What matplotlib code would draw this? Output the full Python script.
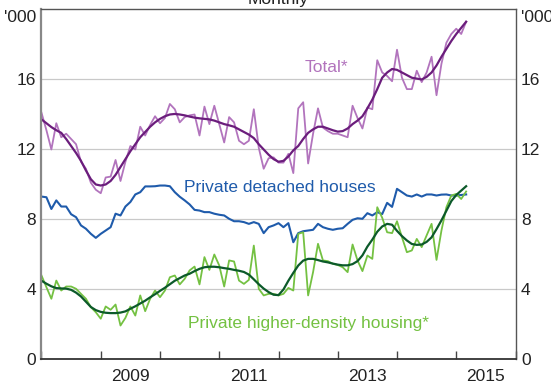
import numpy as np
import matplotlib
matplotlib.use("Agg")
import matplotlib.pyplot as plt

plt.rcParams['font.family'] = ['Liberation Sans', 'DejaVu Sans']

# Monthly data, Jan 2008 onwards ('000 dwellings)
total = [14.1, 13.1, 12.0, 13.5, 12.7, 12.9, 12.6, 12.3, 11.3, 10.9,
         10.1, 9.7, 9.5, 10.4, 10.45, 11.4, 10.2, 11.3, 12.2, 12.0,
         13.3, 12.8, 13.4, 13.9, 13.5, 13.8, 14.6, 14.3, 13.55, 13.85,
         13.95, 14.0, 12.8, 14.45, 13.45, 14.5, 13.45, 12.4, 13.85, 13.55,
         12.5, 12.3, 12.5, 14.3, 12.1, 10.9, 11.5, 11.55, 11.25, 11.25,
         11.75, 10.65, 14.35, 14.7, 11.2, 12.9, 14.35, 13.25, 13.05, 12.9,
         12.9, 12.8, 12.7, 14.5, 13.8, 13.2, 14.4, 14.3, 17.1, 16.4,
         16.2, 15.9, 17.7, 16.1, 15.45, 15.45, 16.5, 15.85, 16.4, 17.3,
         15.1, 16.9, 18.1, 18.6, 18.9, 18.6, 19.3]
total_trend = [13.72, 13.5, 13.28, 13.1, 12.95, 12.6, 12.2, 11.8, 11.35, 10.8,
               10.3, 10.0, 9.94, 10.0, 10.2, 10.55, 11.0, 11.45, 11.9, 12.3,
               12.7, 13.0, 13.3, 13.55, 13.75, 13.9, 14.0, 14.03, 14.0, 13.95,
               13.88, 13.82, 13.78, 13.75, 13.72, 13.65, 13.55, 13.45, 13.38, 13.3,
               13.15, 13.0, 12.85, 12.65, 12.3, 12.0, 11.7, 11.45, 11.3, 11.35,
               11.6, 11.95, 12.2, 12.6, 12.95, 13.15, 13.3, 13.3, 13.2, 13.1,
               13.02, 13.05, 13.2, 13.45, 13.65, 13.9, 14.35, 14.85, 15.45, 16.1,
               16.4, 16.6, 16.55, 16.4, 16.25, 16.1, 16.05, 16.0, 16.15, 16.4,
               16.8, 17.3, 17.75, 18.2, 18.6, 18.95, 19.3]
detached = [9.31, 9.27, 8.6, 9.09, 8.74, 8.74, 8.3, 8.13, 7.66, 7.47,
            7.18, 6.95, 7.18, 7.37, 7.56, 8.33, 8.23, 8.74, 9.0, 9.43,
            9.56, 9.89, 9.89, 9.9, 9.94, 9.94, 9.9, 9.56, 9.3, 9.09,
            8.86, 8.55, 8.51, 8.42, 8.42, 8.33, 8.27, 8.23, 8.04, 7.9,
            7.9, 7.85, 7.75, 7.85, 7.75, 7.22, 7.56, 7.66, 7.79, 7.56,
            7.79, 6.7, 7.22, 7.33, 7.37, 7.41, 7.75, 7.56, 7.47, 7.41,
            7.47, 7.5, 7.75, 7.98, 8.07, 8.04, 8.36, 8.23, 8.42, 8.31,
            8.95, 8.72, 9.75, 9.56, 9.37, 9.31, 9.43, 9.31, 9.43, 9.43,
            9.37, 9.42, 9.43, 9.37, 9.37, 9.4, 9.43]
higher = [4.8, 4.13, 3.47, 4.51, 3.94, 4.17, 4.17, 4.04, 3.75, 3.47,
          2.99, 2.7, 2.33, 3.03, 2.84, 3.14, 1.94, 2.38, 3.03, 2.51,
          3.66, 2.76, 3.47, 3.94, 3.56, 3.94, 4.7, 4.8, 4.29, 4.61,
          5.09, 5.31, 4.29, 5.85, 5.12, 6.0, 5.37, 4.17, 5.66, 5.6,
          4.51, 4.32, 4.55, 6.51, 4.04, 3.66, 3.75, 3.75, 3.66, 3.75,
          4.09, 3.94, 7.18, 7.27, 3.66, 4.99, 6.61, 5.66, 5.62, 5.47,
          5.4, 5.27, 4.99, 6.57, 5.66, 5.05, 5.94, 5.75, 8.7, 8.1,
          7.27, 7.22, 7.9, 6.99, 6.13, 6.23, 6.89, 6.42, 7.09, 7.75,
          5.69, 7.37, 8.7, 9.37, 9.46, 9.17, 9.6]
higher_trend = [4.5, 4.33, 4.18, 4.08, 4.06, 4.05, 3.98, 3.82, 3.6, 3.3,
                3.0, 2.82, 2.72, 2.67, 2.65, 2.65, 2.68, 2.75, 2.9, 3.04,
                3.2, 3.36, 3.55, 3.73, 3.92, 4.1, 4.3, 4.5, 4.65, 4.8,
                4.9, 5.05, 5.18, 5.27, 5.3, 5.3, 5.27, 5.22, 5.18, 5.12,
                5.07, 5.0, 4.85, 4.58, 4.3, 4.05, 3.85, 3.7, 3.68, 4.0,
                4.5, 4.95, 5.37, 5.65, 5.75, 5.75, 5.68, 5.6, 5.55, 5.48,
                5.42, 5.38, 5.38, 5.45, 5.62, 5.95, 6.45, 6.85, 7.3, 7.6,
                7.75, 7.7, 7.35, 7.05, 6.8, 6.6, 6.55, 6.57, 6.72, 6.98,
                7.45, 7.95, 8.5, 9.05, 9.4, 9.65, 9.9]

years = [2009, 2011, 2013, 2015]
yticks = [0, 4, 8, 12, 16]

t = 2008 + np.arange(len(total)) / 12

c_total, c_total_tr = '#b274bd', '#6b1d7c'
c_det = '#1f5bab'
c_hd, c_hd_tr = '#74c142', '#0c5a2a'

fig = plt.figure(figsize=(5.51, 3.87), dpi=100)
ax = fig.add_axes([0.0753, 0.0711, 0.8603, 0.9044])

ax.plot(t, total, color=c_total, lw=1.3)
ax.plot(t, total_trend, color=c_total_tr, lw=1.6)
ax.plot(t, detached, color=c_det, lw=1.5)
ax.plot(t, higher, color=c_hd, lw=1.3)
ax.plot(t, higher_trend, color=c_hd_tr, lw=1.6)

ax.set_xlim(2008, 2016)
ax.set_ylim(0, 20)

ax.set_xticks(np.arange(2008, 2017))
ax.set_xticklabels([])
ax.set_xticks([y + 0.5 for y in years], minor=True)
ax.set_xticklabels([str(y) for y in years], minor=True)
ax.tick_params(axis='x', which='major', direction='in', length=6,
               width=1, color='#444444')
ax.tick_params(axis='x', which='minor', length=0, pad=7, labelsize=12.5,
               labelcolor='#222222')

ax.set_yticks(yticks)
ax.tick_params(axis='y', length=0, pad=4, labelsize=12.5, labelcolor='#222222',
               labelleft=True, labelright=True)
for y in yticks[1:]:
    ax.axhline(y, color='#c9c9c9', lw=0.9, zorder=0)

for side in ['left', 'right', 'top', 'bottom']:
    ax.spines[side].set_color('#555555')
    ax.spines[side].set_linewidth(1.0)
ax.spines['left'].set_color('#888888')
ax.spines['left'].set_linewidth(1.6)
ax.spines['bottom'].set_color('#333333')
ax.spines['bottom'].set_linewidth(1.3)

ax.text(-0.011, 19.57, "'000", transform=ax.get_yaxis_transform(),
        ha='right', va='center', fontsize=12.5, color='#222222')
ax.text(1.011, 19.57, "'000", transform=ax.get_yaxis_transform(),
        ha='left', va='center', fontsize=12.5, color='#222222')

ax.text(2012.81, 16.66, 'Total*', color=c_total, fontsize=12.5,
        ha='center', va='center')
ax.text(2012.03, 9.82, 'Private detached houses', color=c_det, fontsize=12.5,
        ha='center', va='center')
ax.text(2012.5, 2.03, 'Private higher-density housing*', color=c_hd,
        fontsize=12.5, ha='center', va='center')

fig.text(278.5 / 551, 1 - 4 / 387, 'Monthly', ha='center', va='baseline',
         fontsize=12.5, color='#222222')

fig.savefig('out.png', dpi=100)
